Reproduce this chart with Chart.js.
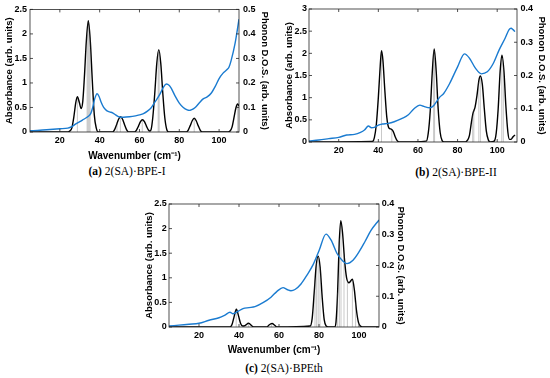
<!DOCTYPE html>
<html>
<head>
<meta charset="utf-8">
<script src="https://cdn.jsdelivr.net/npm/chart.js@4.4.0/dist/chart.umd.min.js"></script>
<style>
  html, body { margin: 0; padding: 0; background: #fff; }
  body { width: 550px; height: 378px; position: relative; overflow: hidden; }
  canvas { position: absolute; }
  .cap { position: absolute; font-family: "Liberation Serif", "Times New Roman", serif; font-size: 11.5px; color: #000; white-space: nowrap; transform: translateX(-50%); line-height: 13px; }
</style>
</head>
<body>
<canvas id="chartA" width="275" height="163" style="left:0;top:0"></canvas>
<canvas id="chartB" width="275" height="160" style="left:275px;top:0"></canvas>
<canvas id="chartC" width="290" height="172" style="left:130px;top:185px"></canvas>
<div class="cap" style="left:127px;top:165px"><b>(a)</b> 2(SA)·BPE-I</div>
<div class="cap" style="left:456px;top:166px"><b>(b)</b> 2(SA)·BPE-II</div>
<div class="cap" style="left:284px;top:362px"><b>(c)</b> 2(SA)·BPEth</div>
<script>
// tick labels
const xTicks = [20, 40, 60, 80, 100];
const absTicksA = [0, 0.5, 1, 1.5, 2, 2.5];
const absTicksB = [0, 0.5, 1, 1.5, 2, 2.5, 3];
const absTicksC = [0, 0.5, 1, 1.5, 2, 2.5];
const dosTicksA = [0, 0.1, 0.2, 0.3, 0.4, 0.5];
const dosTicksB = [0, 0.1, 0.2, 0.3, 0.4];
const dosTicksC = [0, 0.1, 0.2, 0.3, 0.4];

// (a) 2(SA)-BPE-I
const absWnA = [5,24,25,26,27,28,28.8,29.8,30.7,31.5,32.3,33.3,34.3,35.3,36.3,37.3,38.3,39.3,46.5,47.5,48.5,49.5,50.5,51.5,52.5,53.5,54.5,57.5,58.5,59.5,60.5,61.5,62.5,63.5,64.5,65.2,65.9,66.7,67.7,68.7,69.7,70.7,71.7,72.7,73.7,74.7,83.5,84.5,85.5,86.5,87.5,88.5,89.5,90.5,91.5,104.5,105.5,106.5,107.5,108.5,109.3,110];
const absA = [0,0,0.02,0.08,0.3,0.6,0.72,0.6,0.48,0.62,1.1,1.85,2.27,1.85,1.05,0.35,0.08,0,0,0.05,0.15,0.26,0.31,0.26,0.15,0.05,0,0,0.04,0.12,0.21,0.25,0.21,0.12,0.04,0.02,0.06,0.3,0.8,1.4,1.68,1.4,0.8,0.3,0.05,0,0,0.04,0.13,0.23,0.28,0.23,0.13,0.04,0,0,0.02,0.1,0.3,0.5,0.57,0.53];
const modeWnA = [28.8,33.7,34.2,34.7,35.2,48.7,50.4,61.4,69.4,69.9,87.5,109.3];
const modeA = [0.7,2.0,2.25,2.15,1.9,0.2,0.3,0.24,1.65,1.65,0.27,0.55];
const dosWnA = [5,10,15,20,24,26,28,30,32,34,35.5,36.5,37.5,38.7,39.7,40.7,42,43.5,45,46.5,48,50,52,55,58,60,62,64,66,68,70,72,73.5,75,76,78,80,82,84,85,86,88,90,92,94,96,98,100,102,104,105,106,108,110];
const dosA = [.005,.007,.01,.013,.016,.022,.033,.042,.052,.062,.075,.1,.135,.156,.145,.122,.1,.087,.082,.078,.07,.061,.06,.062,.066,.07,.075,.085,.1,.125,.15,.182,.196,.19,.178,.145,.118,.1,.09,.088,.09,.1,.118,.135,.143,.158,.185,.218,.24,.255,.265,.29,.36,.46];

// (b) 2(SA)-BPE-II
const absWnB = [5,37,38,39,40,41,41.6,42.3,43.3,44.3,45.3,46.5,47.5,48.5,49.5,50.5,64.2,65.2,66.2,67.2,68.2,69.2,70.2,71.2,72.2,73.2,84,85,86,87,87.8,88.8,89.8,90.8,91.5,92.5,93.5,94.5,95.5,96.5,98.5,99.5,100.5,101.5,102.4,103.4,104.4,105.4,106.2,107,108,109];
const absB = [0,0.01,0.1,0.4,1.0,1.75,2.06,1.85,1.15,0.55,0.32,0.29,0.24,0.12,0.03,0,0.02,0.2,0.7,1.55,2.1,1.6,0.75,0.22,0.03,0,0,0.04,0.15,0.45,0.65,0.78,1.05,1.4,1.49,1.3,0.75,0.25,0.05,0,0.02,0.2,0.75,1.6,1.96,1.6,0.8,0.22,0.06,0.06,0.12,0.16];
const modeWnB = [41.6,46.8,67.9,68.4,87.6,88.2,90.7,91.5,102.3,103.1];
const modeB = [2.0,0.28,2.05,2.05,0.6,0.75,1.35,1.45,1.9,1.7];
const dosWnB = [5,10,15,20,24,28,31,33,35,36.5,38,40,42,45,48,52,55,58,61,63,66,68,71,73,76,80,83.5,86,89,92,95,98,101,104,106,107,108,109];
const dosB = [.003,.006,.01,.014,.021,.023,.029,.036,.048,.043,.044,.051,.054,.056,.061,.071,.081,.1,.111,.107,.103,.11,.135,.146,.176,.226,.265,.252,.222,.205,.211,.236,.277,.312,.338,.342,.338,.332];

// (c) 2(SA)-BPEth
const absWnC = [5,35.5,36.5,37.5,38.7,39.8,40.8,41.8,43,44.8,46.5,47.5,54,55,56.5,58,59,75.6,76.6,77.6,78.6,79.6,80.6,81.6,82.6,83.6,84.6,87.8,88.5,89.3,90.1,90.9,91.8,92.8,93.8,95,96.7,97.7,98.7,99.7,100.7,101.7,110];
const absC = [0,0,0.05,0.2,0.36,0.22,0.07,0.02,0.03,0.075,0.02,0,0,0.04,0.07,0.03,0,0.02,0.18,0.7,1.25,1.44,1.2,0.6,0.15,0.02,0,0,0.1,0.7,1.7,2.16,1.9,1.35,1.0,0.9,0.97,0.75,0.35,0.1,0.02,0,0];
const modeWnC = [38.6,44.8,56.2,78.0,78.8,79.6,80.5,89.3,90.2,91.0,92.5,94.2,96.7,98.3];
const modeC = [0.34,0.07,0.06,0.95,1.3,1.4,1.2,0.7,1.8,2.1,1.45,0.95,0.95,0.5];
const dosWnC = [5,10,15,20,25,30,33,35.5,37,39,42,45,48,52,56,59,62,64,66,68,71,74,77,80,83.5,86,89,92,94,97,100,103,106,110];
const dosC = [.003,.006,.009,.012,.022,.03,.039,.048,.043,.049,.06,.063,.066,.079,.097,.116,.128,.122,.118,.122,.14,.169,.202,.248,.302,.283,.239,.214,.206,.217,.244,.278,.314,.348];

const FONT = "'Liberation Sans', Arial, sans-serif";
const AXIS = '#262626';
const BLUE = '#1a7bd0';

Chart.defaults.font.family = FONT;
Chart.defaults.color = '#000';

function pts(xs, ys) {
  return xs.map((x, i) => ({ x: x, y: ys[i] }));
}
function sticks(xs, hs) {
  const out = [];
  xs.forEach((x, i) => { out.push({ x: x, y: 0 }, { x: x, y: hs[i] }, { x: x, y: null }); });
  return out;
}

// box round the plot with MATLAB style inward ticks
const frame = {
  id: 'frame',
  afterDatasetsDraw(chart) {
    const { ctx, chartArea: a, scales } = chart;
    ctx.save();
    ctx.strokeStyle = AXIS;
    ctx.lineWidth = 0.8;
    ctx.strokeRect(a.left, a.top, a.right - a.left, a.bottom - a.top);
    ctx.beginPath();
    scales.x.ticks.forEach(t => {
      const px = scales.x.getPixelForValue(t.value);
      ctx.moveTo(px, a.bottom); ctx.lineTo(px, a.bottom - 3);
      ctx.moveTo(px, a.top); ctx.lineTo(px, a.top + 3);
    });
    scales.y.ticks.forEach(t => {
      const py = scales.y.getPixelForValue(t.value);
      ctx.moveTo(a.left, py); ctx.lineTo(a.left + 3, py);
    });
    scales.y1.ticks.forEach(t => {
      const py = scales.y1.getPixelForValue(t.value);
      ctx.moveTo(a.right, py); ctx.lineTo(a.right - 3, py);
    });
    ctx.stroke();
    ctx.restore();
  }
};

function setTicks(list) {
  return s => { s.ticks = list.map(v => ({ value: v })); };
}

function makePanel(id, d, L) {
  return new Chart(document.getElementById(id), {
    type: 'line',
    data: {
      datasets: [
        { label: 'Phonon D.O.S.', data: pts(d.dosWn, d.dos), yAxisID: 'y1', borderColor: BLUE, borderWidth: 1.4, pointRadius: 0, cubicInterpolationMode: 'monotone' },
        { label: 'Modes', data: sticks(d.modeWn, d.mode), yAxisID: 'y', borderColor: 'rgba(90,90,90,0.55)', borderWidth: 0.6, pointRadius: 0, spanGaps: false },
        { label: 'Absorbance', data: pts(d.absWn, d.abs), yAxisID: 'y', borderColor: '#000', borderWidth: 1.4, pointRadius: 0, cubicInterpolationMode: 'monotone' }
      ]
    },
    options: {
      responsive: false,
      animation: false,
      layout: { padding: { top: L.top, left: 0, right: 0, bottom: 0 } },
      plugins: { legend: { display: false }, tooltip: { enabled: false } },
      scales: {
        x: {
          type: 'linear', position: 'bottom', min: 5, max: 110,
          afterBuildTicks: setTicks(xTicks),
          afterFit: s => { s.height = L.xH; },
          grid: { display: false, drawTicks: false },
          border: { display: false },
          ticks: { padding: 3, maxRotation: 0, autoSkip: false, font: { size: 9, weight: 'bold' } },
          title: { display: L.xTitle, text: 'Wavenumber (cm⁻¹)', padding: { top: 0, bottom: 1 }, font: { size: 10, weight: 'bold' } }
        },
        y: {
          position: 'left', min: 0, max: d.absMax,
          afterBuildTicks: setTicks(d.absTicks),
          afterFit: s => { s.width = L.yW; },
          grid: { display: false, drawTicks: false },
          border: { display: false },
          ticks: { padding: L.yTickPad, callback: v => String(v), font: { size: 9, weight: 'bold' } },
          title: { display: true, text: 'Absorbance (arb. units)', padding: { top: L.yTitlePad, bottom: 0 }, font: { size: 9.5, weight: 'bold' } }
        },
        y1: {
          position: 'right', min: 0, max: d.dosMax,
          afterBuildTicks: setTicks(d.dosTicks),
          afterFit: s => { s.width = L.y1W; },
          grid: { display: false, drawTicks: false },
          border: { display: false },
          ticks: { padding: L.y1TickPad, callback: v => String(v), font: { size: 9, weight: 'bold' } },
          title: { display: true, text: 'Phonon D.O.S. (arb. units)', padding: { top: L.y1TitlePad, bottom: 0 }, font: { size: 9.5, weight: 'bold' } }
        }
      }
    },
    plugins: [frame]
  });
}

makePanel('chartA',
  { absWn: absWnA, abs: absA, modeWn: modeWnA, mode: modeA, dosWn: dosWnA, dos: dosA, absMax: 2.5, dosMax: 0.5, absTicks: absTicksA, dosTicks: dosTicksA },
  { top: 8, xH: 31, yW: 30, y1W: 36, yTickPad: 3, yTitlePad: 4, y1TickPad: 4, y1TitlePad: 4.3, xTitle: true });
makePanel('chartB',
  { absWn: absWnB, abs: absB, modeWn: modeWnB, mode: modeB, dosWn: dosWnB, dos: dosB, absMax: 3, dosMax: 0.4, absTicks: absTicksB, dosTicks: dosTicksB },
  { top: 9, xH: 18, yW: 34, y1W: 33, yTickPad: 2, yTitlePad: 8.3, y1TickPad: 3.5, y1TitlePad: 2.3, xTitle: false });
makePanel('chartC',
  { absWn: absWnC, abs: absC, modeWn: modeWnC, mode: modeC, dosWn: dosWnC, dos: dosC, absMax: 2.5, dosMax: 0.4, absTicks: absTicksC, dosTicks: dosTicksC },
  { top: 19, xH: 30, yW: 39, y1W: 41, yTickPad: 2.3, yTitlePad: 13.3, y1TickPad: 2.7, y1TitlePad: 13.3, xTitle: true });
</script>
</body>
</html>
